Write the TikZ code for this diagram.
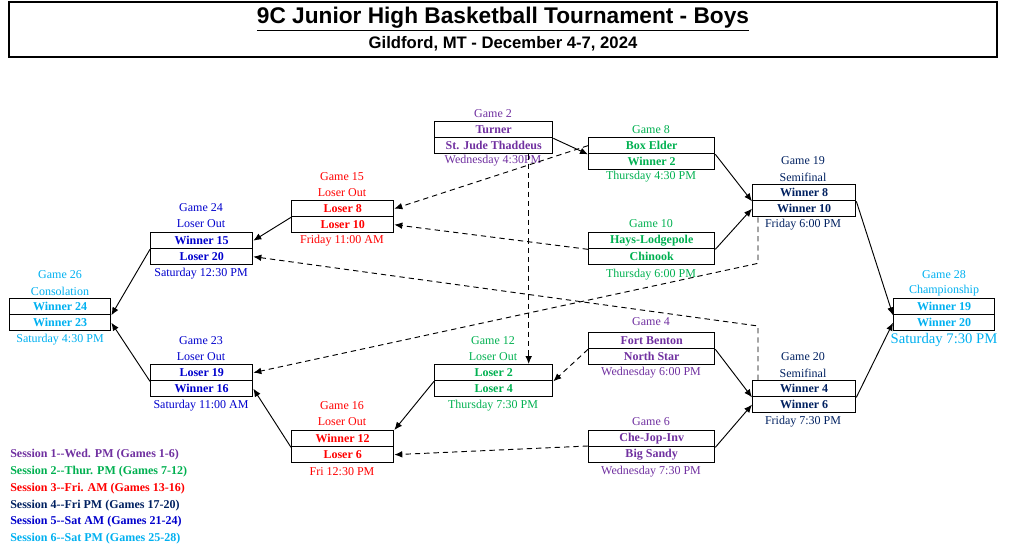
\documentclass[tikz,border=0pt]{standalone}
\usepackage{fontspec}
\setmainfont{Liberation Serif}
\newfontfamily\titlefont{Liberation Sans}
\usetikzlibrary{arrows.meta}
\definecolor{sessA}{HTML}{7030A0}
\definecolor{sessB}{HTML}{00B050}
\definecolor{sessC}{HTML}{FF0000}
\definecolor{sessD}{HTML}{002060}
\definecolor{sessE}{HTML}{0000CC}
\definecolor{sessF}{HTML}{00B0F0}
\tikzset{
  cell/.style={draw, line width=1pt, minimum height=12pt, inner sep=0pt, font=\fontsize{9}{10}\selectfont\bfseries},
  info/.style={inner sep=0pt, font=\fontsize{9}{10}\selectfont},
  win/.style={-{Latex[length=6pt,width=5pt]}, line width=0.7pt},
  drop/.style={-{Latex[length=6pt,width=5pt]}, line width=0.7pt, dashed, dash pattern=on 4pt off 3pt},
}
% one game: name, left x, top y, width, colour, top team, bottom team
\newcommand{\game}[7]{
  \node[cell, text=#5, minimum width=#4*0.75pt, anchor=north west] (#1a) at (#2,#3) {#6};
  \node[cell, text=#5, minimum width=#4*0.75pt, anchor=north west] (#1b) at (#2,#3+16) {#7};
}
\begin{document}
\begin{tikzpicture}[x=0.75pt,y=-0.75pt]
\useasboundingbox (0,0) rectangle (1024,556);

% Title
\draw[line width=1pt] (9,2) rectangle (997,57);
\node[font=\titlefont\fontsize{17}{18}\selectfont\bfseries] (title) at (503,19) {\underline{9C Junior High Basketball Tournament - Boys}};
\node[font=\titlefont\fontsize{12.5}{13}\selectfont\bfseries] (place) at (503,44) {Gildford, MT - December 4-7, 2024};

% Games
\game{gt}{434}{121}{118}{sessA}{Turner}{St. Jude Thaddeus}
\node[info, text=sessA] (gtn) at (493,114) {Game 2};
\node[info, text=sessA] (gtt) at (493,161) {Wednesday 4:30PM};

\game{ge}{588}{137}{126}{sessB}{Box Elder}{Winner 2}
\node[info, text=sessB] (gen) at (651,130) {Game 8};
\node[info, text=sessB] (get) at (651,177) {Thursday 4:30 PM};

\game{gj}{588}{232}{126}{sessB}{Hays-Lodgepole}{Chinook}
\node[info, text=sessB] (gjn) at (651,224) {Game 10};
\node[info, text=sessB] (gjt) at (651,275) {Thursday 6:00 PM};

\game{gs}{752}{184}{103}{sessD}{Winner 8}{Winner 10}
\node[info, text=sessD] (gsn) at (803,161) {Game 19};
\node[info, text=sessD] (gsm) at (803,177) {Semifinal};
\node[info, text=sessD] (gst) at (803,225) {Friday 6:00 PM};

\game{gf}{291}{200}{102}{sessC}{Loser 8}{Loser 10}
\node[info, text=sessC] (gfn) at (342,177) {Game 15};
\node[info, text=sessC] (gfm) at (342,193) {Loser Out};
\node[info, text=sessC] (gft) at (342,241) {Friday 11:00 AM};

\game{gx}{150}{232}{102}{sessE}{Winner 15}{Loser 20}
\node[info, text=sessE] (gxn) at (201,208) {Game 24};
\node[info, text=sessE] (gxm) at (201,224) {Loser Out};
\node[info, text=sessE] (gxt) at (201,274) {Saturday 12:30 PM};

\game{gc}{9}{298}{101}{sessF}{Winner 24}{Winner 23}
\node[info, text=sessF] (gcn) at (60,275) {Game 26};
\node[info, text=sessF] (gcm) at (60,291) {Consolation};
\node[info, text=sessF] (gct) at (60,340) {Saturday 4:30 PM};

\game{gw}{893}{298}{101}{sessF}{Winner 19}{Winner 20}
\node[info, text=sessF] (gwn) at (944,275) {Game 28};
\node[info, text=sessF] (gwm) at (944,291) {Championship};
\node[info, text=sessF, font=\fontsize{11}{12}\selectfont] (gwt) at (944,340) {Saturday 7:30 PM};

\game{gl}{434}{364}{118}{sessB}{Loser 2}{Loser 4}
\node[info, text=sessB] (gln) at (493,341) {Game 12};
\node[info, text=sessB] (glm) at (493,357) {Loser Out};
\node[info, text=sessB] (glt) at (493,406) {Thursday 7:30 PM};

\game{gb}{588}{332}{126}{sessA}{Fort Benton}{North Star}
\node[info, text=sessA] (gbn) at (651,322) {Game 4};
\node[info, text=sessA] (gbt) at (651,373) {Wednesday 6:00 PM};

\game{gv}{752}{380}{103}{sessD}{Winner 4}{Winner 6}
\node[info, text=sessD] (gvn) at (803,357) {Game 20};
\node[info, text=sessD] (gvm) at (803,373) {Semifinal};
\node[info, text=sessD] (gvt) at (803,422) {Friday 7:30 PM};

\game{gy}{150}{364}{102}{sessE}{Loser 19}{Winner 16}
\node[info, text=sessE] (gyn) at (201,341) {Game 23};
\node[info, text=sessE] (gym) at (201,357) {Loser Out};
\node[info, text=sessE] (gyt) at (201,406) {Saturday 11:00 AM};

\game{gp}{291}{430}{102}{sessC}{Winner 12}{Loser 6}
\node[info, text=sessC] (gpn) at (342,406) {Game 16};
\node[info, text=sessC] (gpm) at (342,422) {Loser Out};
\node[info, text=sessC] (gpt) at (342,472) {Fri 12:30 PM};

\game{gk}{588}{430}{126}{sessA}{Che-Jop-Inv}{Big Sandy}
\node[info, text=sessA] (gkn) at (651,422) {Game 6};
\node[info, text=sessA] (gkt) at (651,472) {Wednesday 7:30 PM};

% Winners move on
\draw[win] (gta.south east) -- (gea.south west);
\draw[win] (gea.south east) -- (gsa.south west);
\draw[win] (gja.south east) -- (gsb.west);
\draw[win] (gsa.south east) -- (gwa.south west);
\draw[win] (gva.south east) -- (gwb.west);
\draw[win] (gba.south east) -- (gva.south west);
\draw[win] (gka.south east) -- (gvb.west);
\draw[win] (gfa.south west) -- (gxa.east);
\draw[win] (gxa.south west) -- (gca.south east);
\draw[win] (gya.south west) -- (gcb.east);
\draw[win] (gpa.south west) -- (gyb.east);
\draw[win] (gla.south west) -- (gpa.north east);

% Losers drop down
\draw[drop] (gea.west) -- (gfa.east);
\draw[drop] (gja.south west) -- (gfb.east);
\draw[drop] (gtb.south) ++(35,0) coordinate (gtd) -- (gtd |- gla.north);
\draw[drop] (gba.south west) -- (gla.south east);
\draw[drop] (gkb.north west) -- (gpb.east);
\draw[drop] (gsb.south west) ++(6,0) coordinate (gsd) -- ++(0,46) -- (gya.east);
\draw[drop] (gva.north west) ++(6,0) coordinate (gvd) -- ++(0,-54) -- (gxb.east);

% Sessions
\begin{scope}[every node/.style={info, anchor=west, font=\fontsize{9}{10}\selectfont\bfseries}]
\node[text=sessA] (sa) at (10,455) {Session 1{-}{-}Wed. PM (Games 1-6)};
\node[text=sessB] (sb) at (10,472) {Session 2{-}{-}Thur. PM (Games 7-12)};
\node[text=sessC] (sc) at (10,489) {Session 3{-}{-}Fri. AM (Games 13-16)};
\node[text=sessD] (sd) at (10,506) {Session 4{-}{-}Fri PM (Games 17-20)};
\node[text=sessE] (se) at (10,522) {Session 5{-}{-}Sat AM (Games 21-24)};
\node[text=sessF] (sf) at (10,539) {Session 6{-}{-}Sat PM (Games 25-28)};
\end{scope}
\end{tikzpicture}
\end{document}
